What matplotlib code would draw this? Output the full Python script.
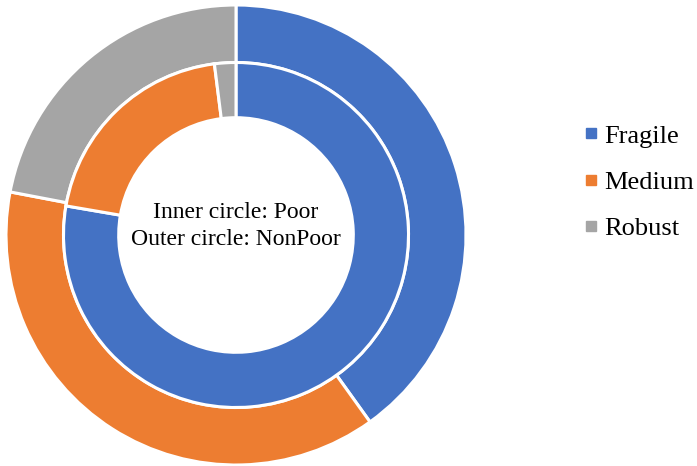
import matplotlib
matplotlib.use("Agg")
import matplotlib.pyplot as plt
from matplotlib.lines import Line2D

categories = ["Fragile", "Medium", "Robust"]
poor_values = [77.7, 20.3, 2.0]        # inner ring
nonpoor_values = [40.1, 37.9, 22.0]    # outer ring
colors = ["#4472C4", "#ED7D31", "#A5A5A5"]

plt.rcParams["font.family"] = ["Liberation Serif", "DejaVu Serif"]

W, H = 697, 466
fig = plt.figure(figsize=(W / 100, H / 100), dpi=100)
cx, cy, r = 236, 235, 230
ax = fig.add_axes([(cx - r) / W, (H - cy - r) / H, 2 * r / W, 2 * r / H])
ax.set_xlim(-1, 1)
ax.set_ylim(-1, 1)
ax.set_aspect("equal")
ax.axis("off")

wedge_style = dict(edgecolor="white", linewidth=2.2)
ax.pie(nonpoor_values, radius=1.0, colors=colors, startangle=90,
       counterclock=False, wedgeprops=dict(width=0.25, **wedge_style))
ax.pie(poor_values, radius=0.75, colors=colors, startangle=90,
       counterclock=False, wedgeprops=dict(width=0.24, **wedge_style))
ax.set_xlim(-1, 1)
ax.set_ylim(-1, 1)

ax.text(0, 0.1, "Inner circle: Poor", ha="center", va="center", fontsize=17)
ax.text(0, -0.02, "Outer circle: NonPoor", ha="center", va="center", fontsize=17)

handles = [Line2D([], [], marker="s", linestyle="none", markersize=7,
                  markerfacecolor=c, markeredgecolor=c) for c in colors]
fig.legend(handles, categories, loc="center left",
           bbox_to_anchor=(586 / W, (H - 182) / H), frameon=False,
           fontsize=19, handlelength=0.4, handletextpad=0.3,
           labelspacing=0.86, borderaxespad=0, borderpad=0)

fig.savefig("out.png", dpi=100)
